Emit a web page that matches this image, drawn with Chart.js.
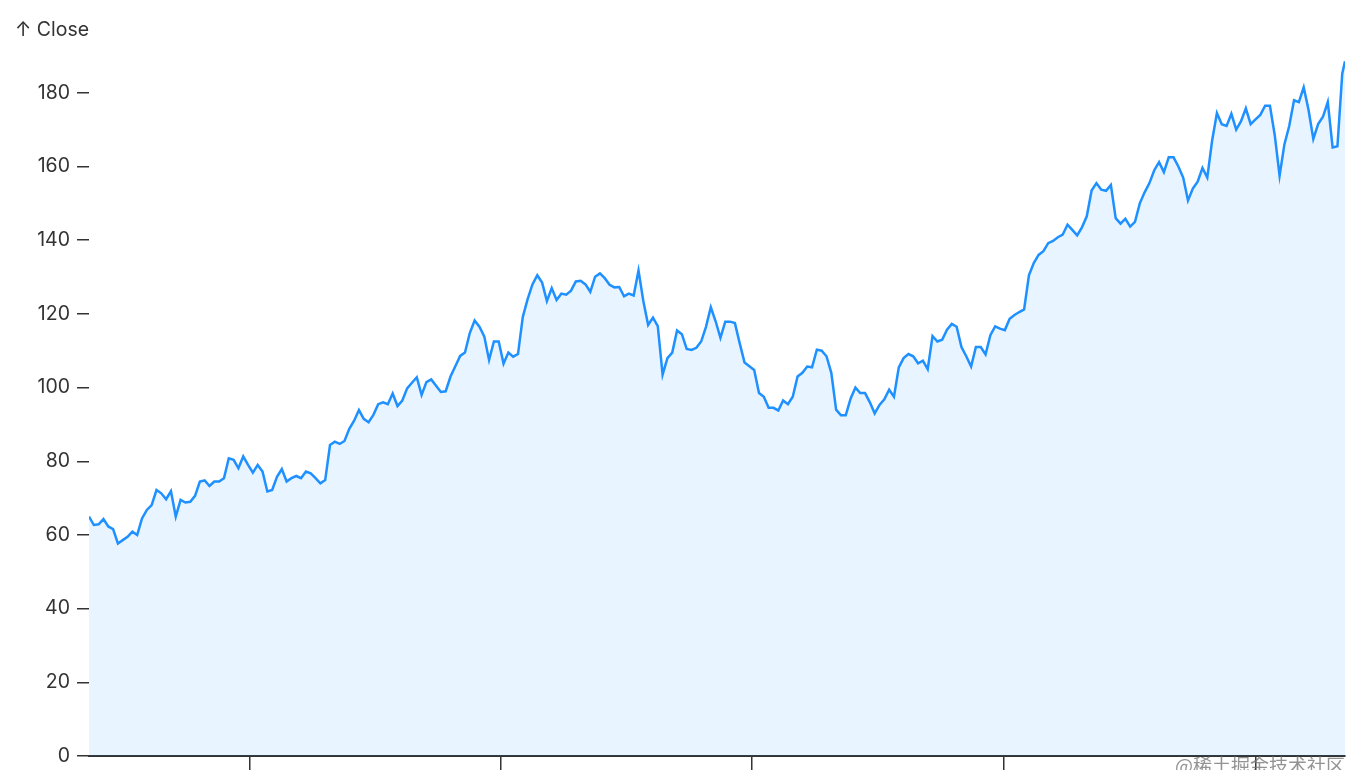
<!DOCTYPE html>
<html>
<head>
<meta charset="utf-8">
<script src="https://cdn.jsdelivr.net/npm/chart.js@4.4.1/dist/chart.umd.min.js"></script>
<style>
  html, body { margin: 0; padding: 0; background: #fff; }
  #wrap { width: 1370px; height: 770px; }
</style>
</head>
<body>
<div id="wrap"><canvas id="closeChart" width="1370" height="770"></canvas></div>
<script>
// AAPL close, one reading per week (Mondays) from 2013-05-13, last one on the final trading day
const startDate = '2013-05-13';
const endDate = '2018-05-11';
const close = [
  65.0, 62.7, 62.9, 64.3, 62.3, 61.6, 57.7, 58.6, 59.5, 60.9,
  60.0, 64.5, 66.8, 68.1, 72.2, 71.3, 69.7, 71.9, 65.0, 69.5,
  68.8, 69.0, 70.6, 74.5, 74.8, 73.3, 74.5, 74.5, 75.4, 80.8,
  80.4, 78.1, 81.3, 79.0, 76.9, 79.0, 77.2, 71.8, 72.2, 75.8,
  77.9, 74.5, 75.4, 76.0, 75.4, 77.2, 76.7, 75.4, 74.0, 74.9,
  84.4, 85.3, 84.7, 85.5, 88.8, 91.0, 93.9, 91.5, 90.6, 92.6,
  95.5, 96.0, 95.5, 98.4, 95.0, 96.5, 99.8, 101.3, 102.8, 98.0,
  101.5, 102.2, 100.5, 98.8, 99.0, 103.0, 105.8, 108.6, 109.5, 114.8,
  118.2, 116.5, 113.9, 107.5, 112.5, 112.5, 106.5, 109.5, 108.4, 109.1,
  119.2, 124.0, 128.0, 130.5, 128.5, 123.5, 127.0, 123.8, 125.5, 125.2,
  126.3, 128.8, 129.0, 128.0, 126.0, 130.1, 131.0, 129.7, 127.9, 127.2,
  127.3, 124.8, 125.5, 125.0, 131.8, 123.5, 117.0, 119.0, 116.7, 103.5,
  108.0, 109.5, 115.5, 114.5, 110.5, 110.2, 110.8, 112.5, 116.5, 121.8,
  118.0, 113.5, 117.9, 117.9, 117.5, 112.0, 106.8, 105.8, 104.8, 98.5,
  97.5, 94.5, 94.5, 93.8, 96.5, 95.5, 97.5, 103.0, 104.0, 105.7,
  105.5, 110.3, 110.0, 108.5, 104.0, 94.0, 92.5, 92.5, 97.0, 100.0,
  98.5, 98.5, 96.0, 93.0, 95.3, 96.8, 99.4, 97.5, 105.5, 108.0,
  109.1, 108.5, 106.6, 107.3, 105.0, 114.0, 112.5, 113.0, 115.7, 117.3,
  116.5, 111.0, 108.5, 105.7, 111.0, 111.0, 109.0, 114.2, 116.6, 116.0,
  115.6, 118.7, 119.7, 120.5, 121.2, 130.5, 133.8, 136.0, 137.0, 139.2,
  139.8, 140.8, 141.5, 144.2, 142.8, 141.3, 143.5, 146.5, 153.5, 155.5,
  153.7, 153.4, 155.0, 146.0, 144.5, 145.8, 143.7, 145.0, 150.0, 153.0,
  155.5, 159.0, 161.2, 158.5, 162.5, 162.5, 160.0, 157.0, 150.8, 154.0,
  155.9, 159.6, 157.0, 167.0, 174.5, 171.5, 171.0, 174.3, 170.0, 172.3,
  175.8, 171.5, 172.8, 174.0, 176.5, 176.5, 168.5, 157.5, 166.0, 171.0,
  178.0, 177.5, 181.5, 175.4, 167.5, 171.5, 173.5, 177.5, 165.2, 165.5,
  185.2, 188.6
];
const yTicks = [0, 20, 40, 60, 80, 100, 120, 140, 160, 180];
const xTickYears = [2014, 2015, 2016, 2017, 2018];
const yLabel = '↑ Close';
const watermark = '@稀土掘金技术社区';

const DAY = 86400000;
const t0 = Date.parse(startDate);
const t1 = Date.parse(endDate);
const dates = close.map((v, i) => i === close.length - 1 ? t1 : t0 + i * 7 * DAY);

const ink = '#333';
const blue = '#1e90ff';

const annotate = {
  id: 'annotate',
  afterDraw(chart) {
    const ctx = chart.ctx;
    ctx.save();
    ctx.fillStyle = ink;
    ctx.font = '19.5px Inter';
    ctx.textBaseline = 'middle';
    ctx.textAlign = 'left';
    ctx.fillText(yLabel, 15, 30);

    ctx.font = '19px "Noto Sans CJK SC"';
    ctx.fillStyle = 'rgba(120,120,120,0.8)';
    ctx.textAlign = 'right';
    ctx.textBaseline = 'alphabetic';
    ctx.fillText(watermark, 1345, 773);
    ctx.restore();
  }
};

new Chart(document.getElementById('closeChart'), {
  type: 'line',
  data: {
    datasets: [{
      data: close.map((v, i) => ({ x: dates[i], y: v })),
      borderColor: blue,
      borderWidth: 2.5,
      backgroundColor: 'rgba(30,144,255,0.1)',
      fill: 'origin',
      pointRadius: 0,
      tension: 0,
    }]
  },
  options: {
    responsive: false,
    animation: false,
    layout: { padding: { top: 56, right: 25, left: 0, bottom: 0 } },
    plugins: {
      legend: { display: false },
      tooltip: { enabled: false },
    },
    scales: {
      x: {
        type: 'linear',
        min: t0,
        max: t1,
        afterBuildTicks: s => { s.ticks = xTickYears.map(y => ({ value: Date.UTC(y, 0, 1) })); },
        afterFit: s => { s.height = 14; s.paddingLeft = 0; s.paddingRight = 0; },
        grid: { drawOnChartArea: false, drawTicks: true, tickLength: 14, color: ink, lineWidth: 1.5 },
        border: { display: true, color: ink, width: 2 },
        ticks: { display: false },
      },
      y: {
        min: 0,
        max: 190,
        afterBuildTicks: s => { s.ticks = yTicks.map(v => ({ value: v })); },
        afterFit: s => { s.width = 89; s.paddingTop = 0; s.paddingBottom = 0; },
        grid: { drawOnChartArea: false, drawTicks: true, tickLength: 12, color: ink, lineWidth: 1.5 },
        border: { display: false },
        ticks: { color: ink, padding: 7, font: { family: 'Inter', size: 19.5 } },
      }
    }
  },
  plugins: [annotate]
});
</script>
</body>
</html>
